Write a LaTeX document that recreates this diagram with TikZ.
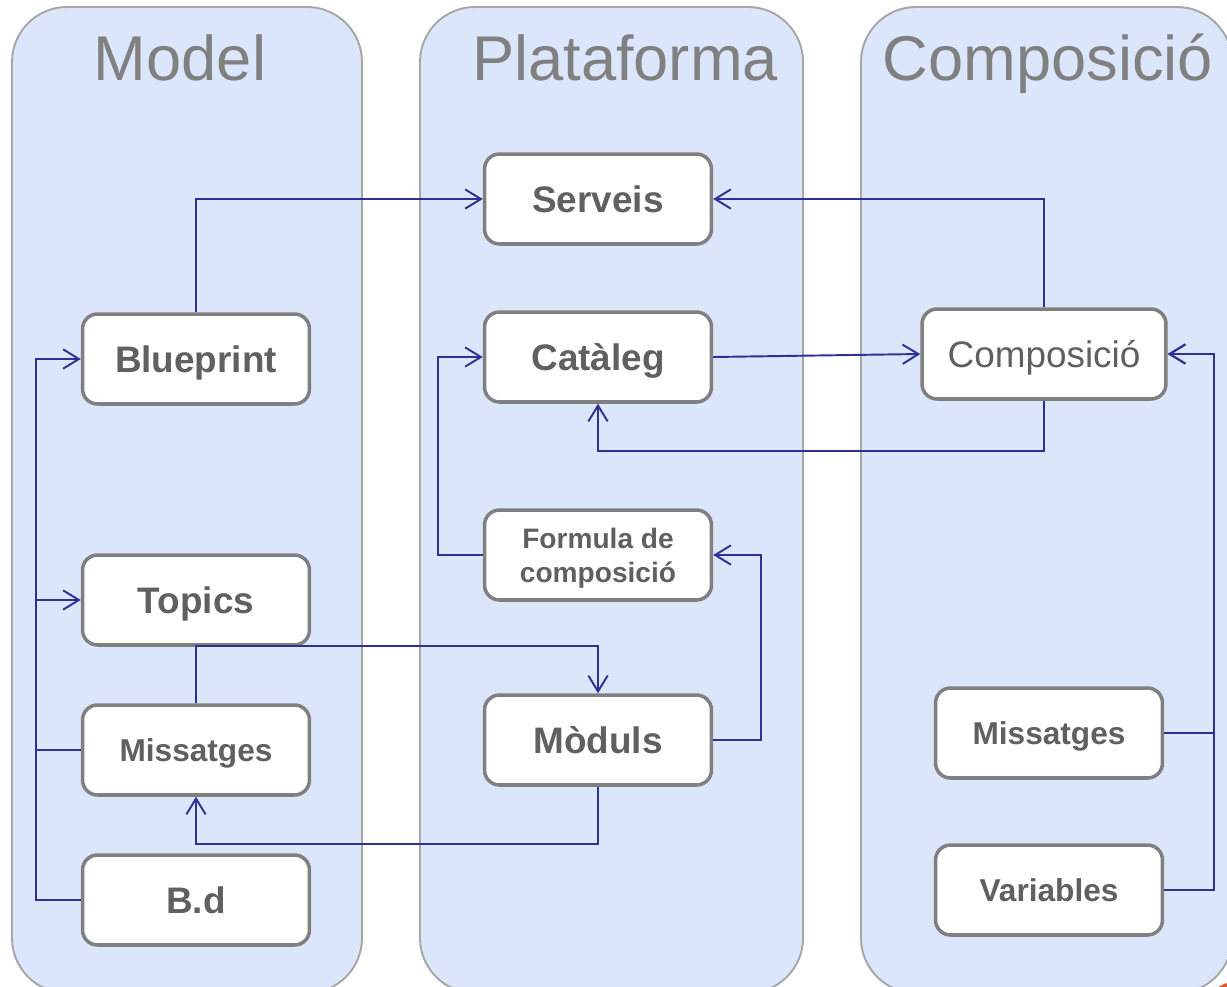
\documentclass[tikz,border=0pt]{standalone}
\usepackage{fontspec}
\setmainfont{Liberation Sans}
\usetikzlibrary{arrows.meta}

\definecolor{lanefill}{HTML}{DCE6FA}
\definecolor{lanedraw}{HTML}{A6A6A6}
\definecolor{boxdraw}{HTML}{808080}
\definecolor{boxtext}{HTML}{606060}
\definecolor{linkblue}{HTML}{2E3192}
\definecolor{cornerred}{HTML}{E4572E}

\begin{document}
\begin{tikzpicture}[x=0.02cm,y=-0.02cm]

      \useasboundingbox (0,0) rectangle (1227,987);
      \clip (0,0) rectangle (1227,987);

      % lanes
      \begin{scope}[every path/.style={fill=lanefill,draw=lanedraw,line width=1.1pt,rounded corners=1.1cm}]
        \path (12,7) rectangle (362,993);
        \path (420,7) rectangle (803,993);
        \path (861,7) rectangle (1232,993);
      \end{scope}
      \fill[cornerred] (1234,1008) circle (26);

      \begin{scope}[every node/.style={text=boxdraw,anchor=base,font=\fontsize{36}{40}\selectfont}]
        \node (tmodel) at (180,80) {Model};
        \node (tplat) at (625,80) {Plataforma};
        \node (tcomp) at (1048,80) {Composició};
      \end{scope}

      \begin{scope}[every node/.style={draw=boxdraw,line width=2pt,fill=white,rounded corners=0.3cm,
          text=boxtext,inner sep=0pt,minimum width=4.54cm,minimum height=1.8cm,align=center,
          text height=15pt,text depth=0pt,font=\bfseries\fontsize{21}{24}\selectfont}]
        \node (bp) at (196,359) {Blueprint};
        \node (topics) at (196,600) {Topics};
        \node[text height=12.9pt,font=\bfseries\fontsize{18}{21}\selectfont] (msgl) at (196,750) {Missatges};
        \node (bd) at (196,900) {B.d};
        \node (serveis) at (598,199) {Serveis};
        \node (cataleg) at (598,357) {Catàleg};
        \node[text height=,text depth=,font=\bfseries\fontsize{16}{19.3}\selectfont] (formula) at (598,555)
          {\raisebox{-2.3pt}[\height][\depth]{\begin{tabular}{@{}c@{}}Formula de\\composició\end{tabular}}};
        \node (moduls) at (598,740) {Mòduls};
        \node[minimum width=4.88cm,font=\fontsize{21}{24}\selectfont] (comp) at (1044,354) {Composició};
        \node[text height=12.9pt,font=\bfseries\fontsize{18}{21}\selectfont] (msgr) at (1049,733) {Missatges};
        \node[text height=12.9pt,font=\bfseries\fontsize{18}{21}\selectfont] (vars) at (1049,890) {Variables};
      \end{scope}

      \begin{scope}[every path/.style={draw=linkblue,line width=1.1pt},
          link/.style={-{Straight Barb[length=9pt,width=11pt,line width=1.1pt]}}]
        \draw[link] (bp.north) |- (serveis.west);
        \draw[link] (comp.north) |- (serveis.east);
        \draw[link] (cataleg.east) -- (comp.west);
        \draw[link] (comp.south) -- ++(0,50) -| (cataleg.south);
        \draw[link] (formula.west) -- ++(-45,0) |- (cataleg.west);
        \draw[link] (moduls.east) -- ++(48,0) |- (formula.east);
        \draw[link] (msgl.north) -- ++(0,-57) -| (moduls.north);
        \draw[link] (moduls.south) -- ++(0,57) -| (msgl.south);
        \draw[link] (bd.west) -- ++(-45,0) |- (bp.west);
        \draw[link] (bd.west) -- ++(-45,0) |- (topics.west);
        \draw (msgl.west) -- ++(-45,0);
        \draw[link] (msgr.east) -- ++(50,0) |- (comp.east);
        \draw[link] (vars.east) -- ++(50,0) |- (comp.east);
      \end{scope}

    \end{tikzpicture}
\end{document}
